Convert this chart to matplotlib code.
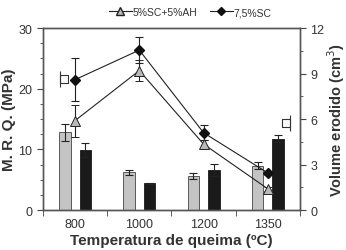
import matplotlib.pyplot as plt
from matplotlib.path import Path
from matplotlib.lines import Line2D

plt.rcParams['font.family'] = ['Liberation Sans', 'DejaVu Sans']

temps = ['800', '1000', '1200', '1350']

# M.R.Q. bars (left axis, MPa)
mrq_grey = [12.8, 6.2, 5.6, 7.3]
mrq_grey_err = [1.4, 0.35, 0.5, 0.6]
mrq_black = [9.9, 4.4, 6.6, 11.8]
mrq_black_err = [1.1, 0.1, 1.0, 0.6]

# volume erodido lines (right axis, cm3)
vol_ah = [5.9, 9.2, 4.35, 1.4]
vol_ah_err = [1.05, 0.7, 0.3, 0.15]
vol_sc = [8.6, 10.55, 5.1, 2.45]
vol_sc_err = [1.4, 0.85, 0.5, 0.15]

x = list(range(len(temps)))
ink = '#333333'

fig = plt.figure(figsize=(3.46, 2.51), dpi=100)
ax = fig.add_axes([0.124, 0.159, 0.743, 0.725])
ax2 = ax.twinx()

ax.bar([i - 0.16 for i in x], mrq_grey, 0.18, yerr=mrq_grey_err, color='#c4c4c4',
       edgecolor='#444444', linewidth=0.6, capsize=3,
       error_kw=dict(elinewidth=0.8, capthick=0.8, ecolor='#222222'))
ax.bar([i + 0.16 for i in x], mrq_black, 0.18, yerr=mrq_black_err, color='#1a1a1a',
       edgecolor='#1a1a1a', linewidth=0.6, capsize=3,
       error_kw=dict(elinewidth=0.8, capthick=0.8, ecolor='#222222'))

ax2.errorbar(x, vol_ah, yerr=vol_ah_err, color='#222222', lw=0.8, marker='^', ms=7,
             mfc='#b8b8b8', mec='#222222', mew=0.7, capsize=3, elinewidth=0.8, capthick=0.8)
ax2.errorbar(x, vol_sc, yerr=vol_sc_err, color='#222222', lw=0.8, marker='D', ms=5,
             mfc='#111111', mec='#111111', capsize=3, elinewidth=0.8, capthick=0.8)

ax.set_xlim(-0.5, 3.5)
ax.set_ylim(0, 30)
ax2.set_ylim(0, 12)
ax.set_yticks([0, 10, 20, 30])
ax.set_yticks([2.5 * k for k in range(13)], minor=True)
ax2.set_yticks([0, 3, 6, 9, 12])
ax2.set_yticks([1.5 * k for k in range(9)], minor=True)
ax.set_xticks(x)
ax.set_xticklabels(temps)
ax.set_xticks([-0.5, 0.5, 1.5, 2.5, 3.5], minor=True)
ax.tick_params(axis='x', which='major', length=0, labelsize=9, labelcolor=ink, pad=6)
ax.tick_params(axis='x', which='minor', length=4, color='#444444', direction='out')
for a in (ax, ax2):
    a.tick_params(axis='y', which='major', length=4, labelsize=9, labelcolor=ink, color='#444444')
    a.tick_params(axis='y', which='minor', length=2.5, color='#444444')
    for s in a.spines.values():
        s.set_color('#555555')
        s.set_linewidth(1.0)

ax.set_xlabel('Temperatura de queima (ºC)', fontsize=11, fontweight='bold', color=ink, labelpad=2)
ax.set_ylabel('M. R. Q. (MPa)', fontsize=11, fontweight='bold', color=ink, labelpad=2)
ax2.set_ylabel('Volume erodido (cm$^3$)', fontsize=10.5, fontweight='bold', color=ink, labelpad=1)

# small axis pointer symbols
left_sym = Path([(1, -0.5), (0, -0.5), (0, 0.5), (1, 0.5), (1, -0.5),
                 (0, 0.9), (0, -0.9)],
                [Path.MOVETO, Path.LINETO, Path.LINETO, Path.LINETO, Path.LINETO,
                 Path.MOVETO, Path.LINETO])
right_sym = Path([(-1, -0.5), (0, -0.5), (0, 0.5), (-1, 0.5), (-1, -0.5),
                  (0, 0.9), (0, -0.9)],
                 [Path.MOVETO, Path.LINETO, Path.LINETO, Path.LINETO, Path.LINETO,
                  Path.MOVETO, Path.LINETO])
ax2.plot([0.066], [0.72], transform=ax2.transAxes, marker=left_sym, ms=12, mfc='white',
         mec='#333333', mew=0.8, ls='none', clip_on=False)
ax2.plot([0.96], [0.478], transform=ax2.transAxes, marker=right_sym, ms=12, mfc='white',
         mec='#333333', mew=0.8, ls='none', clip_on=False)

handles = [
    Line2D([], [], color='#222222', lw=0.8, marker='^', ms=6, mfc='#b8b8b8', mec='#222222'),
    Line2D([], [], color='#222222', lw=0.8, marker='D', ms=4.5, mfc='#111111', mec='#111111'),
]
fig.legend(handles, ['5%SC+5%AH', '7,5%SC'], loc='center', bbox_to_anchor=(0.55, 0.948),
           ncol=2, frameon=False, fontsize=7.5, handlelength=2.2, handletextpad=0.1,
           columnspacing=1.2, labelcolor=ink)

fig.savefig('out.png', dpi=100)
